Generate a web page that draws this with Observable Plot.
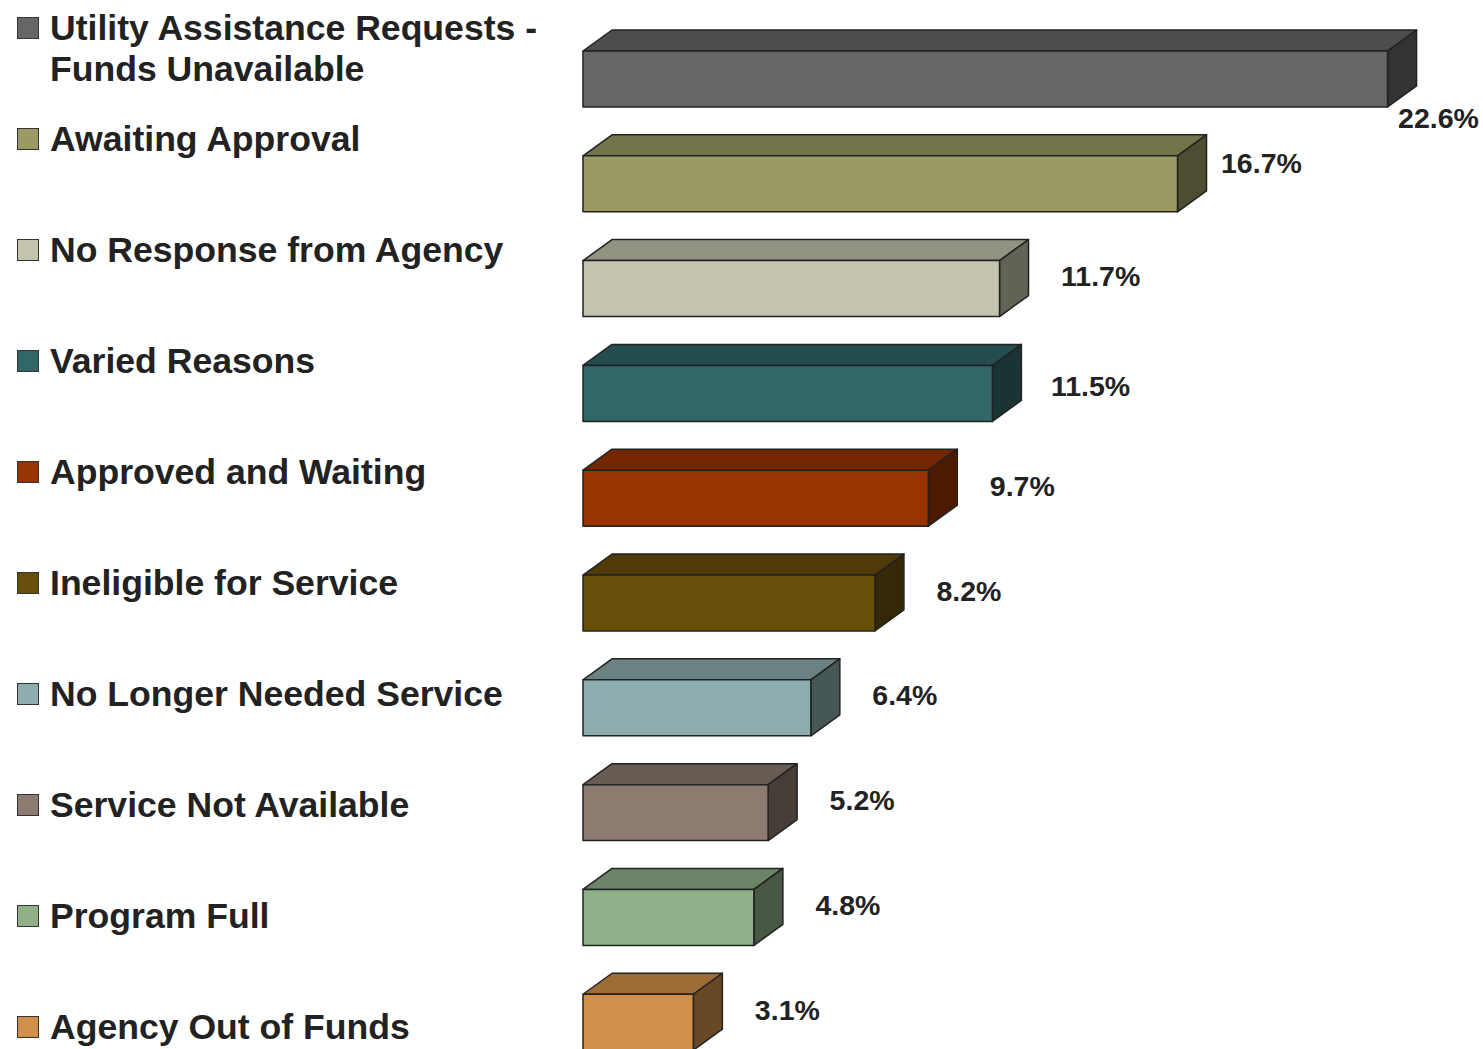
<!DOCTYPE html>
<html>
<head>
<meta charset="utf-8">
<script src="https://cdn.jsdelivr.net/npm/d3@7"></script>
<script src="https://cdn.jsdelivr.net/npm/@observablehq/plot@0.6"></script>
<style>
  html, body { margin: 0; padding: 0; background: #fff; }
  #wrap { position: relative; width: 1483px; height: 1049px; overflow: hidden; }
  #wrap svg { position: absolute; left: 0; top: 0; }
  .legend { position: absolute; left: 17px; top: 0; font-family: "Liberation Sans", Arial, sans-serif; font-weight: bold; font-size: 35.6px; color: #222; }
  .item { position: absolute; left: 0; display: flex; align-items: flex-start; line-height: 41px; white-space: nowrap; }
  .sw { width: 20px; height: 20px; border: 1.5px solid #333; margin-top: 9px; margin-right: 11px; flex: none; }
</style>
</head>
<body>
<div id="wrap"></div>
<script>
const categories = [
  "Utility Assistance Requests - Funds Unavailable",
  "Awaiting Approval",
  "No Response from Agency",
  "Varied Reasons",
  "Approved and Waiting",
  "Ineligible for Service",
  "No Longer Needed Service",
  "Service Not Available",
  "Program Full",
  "Agency Out of Funds"
];
const legendLines = [
  ["Utility Assistance Requests -", "Funds Unavailable"],
  ["Awaiting Approval"],
  ["No Response from Agency"],
  ["Varied Reasons"],
  ["Approved and Waiting"],
  ["Ineligible for Service"],
  ["No Longer Needed Service"],
  ["Service Not Available"],
  ["Program Full"],
  ["Agency Out of Funds"]
];
const values = [22.6, 16.7, 11.7, 11.5, 9.7, 8.2, 6.4, 5.2, 4.8, 3.1];
const colors = ["#666666", "#9a9a62", "#c3c3ae", "#336666", "#993300", "#6a4f0b", "#8eadae", "#8c7b70", "#90b08a", "#d19049"];

const data = categories.map((c, i) => ({category: c, value: values[i], color: colors[i], i}));

const DX = 29, DY = 21;
function shade(c, k) {
  const r = d3.rgb(c);
  return d3.rgb(r.r * k, r.g * k, r.b * k).formatHex();
}

const bars3d = Plot.barX(data, {
  x: "value", y: "category",
  render(index, scales, values, dimensions, context) {
    const x = scales.x, y = scales.y;
    const bw = y.bandwidth ? y.bandwidth() : 56;
    const g = d3.create("svg:g");
    for (const i of index) {
      const d = data[i];
      const x0 = x(0), x1 = x(d.value);
      const y0 = y(d.category), y1 = y0 + bw;
      const grp = g.append("g").attr("stroke", "#222").attr("stroke-width", 1.5).attr("stroke-linejoin", "round");
      grp.append("polygon")
        .attr("points", [[x0, y0], [x0 + DX, y0 - DY], [x1 + DX, y0 - DY], [x1, y0]].join(" "))
        .attr("fill", shade(d.color, 0.75));
      grp.append("polygon")
        .attr("points", [[x1, y0], [x1 + DX, y0 - DY], [x1 + DX, y1 - DY], [x1, y1]].join(" "))
        .attr("fill", shade(d.color, 0.5));
      grp.append("rect")
        .attr("x", x0).attr("y", y0).attr("width", x1 - x0).attr("height", bw)
        .attr("fill", d.color);
    }
    return g.node();
  }
});

const fmt = d => d.value.toFixed(1) + "%";
const textStyle = {fontSize: 28.5, fontWeight: "bold", fill: "#222", textAnchor: "start", fontFamily: "Liberation Sans, Arial, sans-serif"};

const chart = Plot.plot({
  width: 1483,
  height: 1049,
  margin: 0,
  style: {background: "#fff", overflow: "visible"},
  x: {domain: [0, 25], range: [583, 583 + 25 * 35.6], axis: null},
  y: {domain: categories, range: [51, 1050.2], paddingInner: 0.466, paddingOuter: 0, align: 0, round: false, axis: null},
  marks: [
    bars3d,
    Plot.text(data.filter(d => d.i === 0), {x: "value", y: "category", text: fmt, dx: 10, dy: 39, ...textStyle}),
    Plot.text(data.filter(d => d.i === 1), {x: "value", y: "category", text: fmt, dx: 43, dy: -20, ...textStyle}),
    Plot.text(data.filter(d => d.i === 3), {x: "value", y: "category", text: fmt, dx: 58, dy: -7, ...textStyle}),
    Plot.text(data.filter(d => d.i >= 2 && d.i !== 3), {x: "value", y: "category", text: fmt, dx: 61, dy: -12, ...textStyle})
  ]
});

const wrap = document.getElementById("wrap");
wrap.appendChild(chart);

const legend = document.createElement("div");
legend.className = "legend";
categories.forEach((c, i) => {
  const item = document.createElement("div");
  item.className = "item";
  item.style.top = (28 + 111.1 * i - 20.5) + "px";
  const sw = document.createElement("div");
  sw.className = "sw";
  sw.style.background = colors[i];
  const txt = document.createElement("div");
  txt.innerHTML = legendLines[i].join("<br>");
  item.appendChild(sw);
  item.appendChild(txt);
  legend.appendChild(item);
});
wrap.appendChild(legend);
</script>
</body>
</html>
